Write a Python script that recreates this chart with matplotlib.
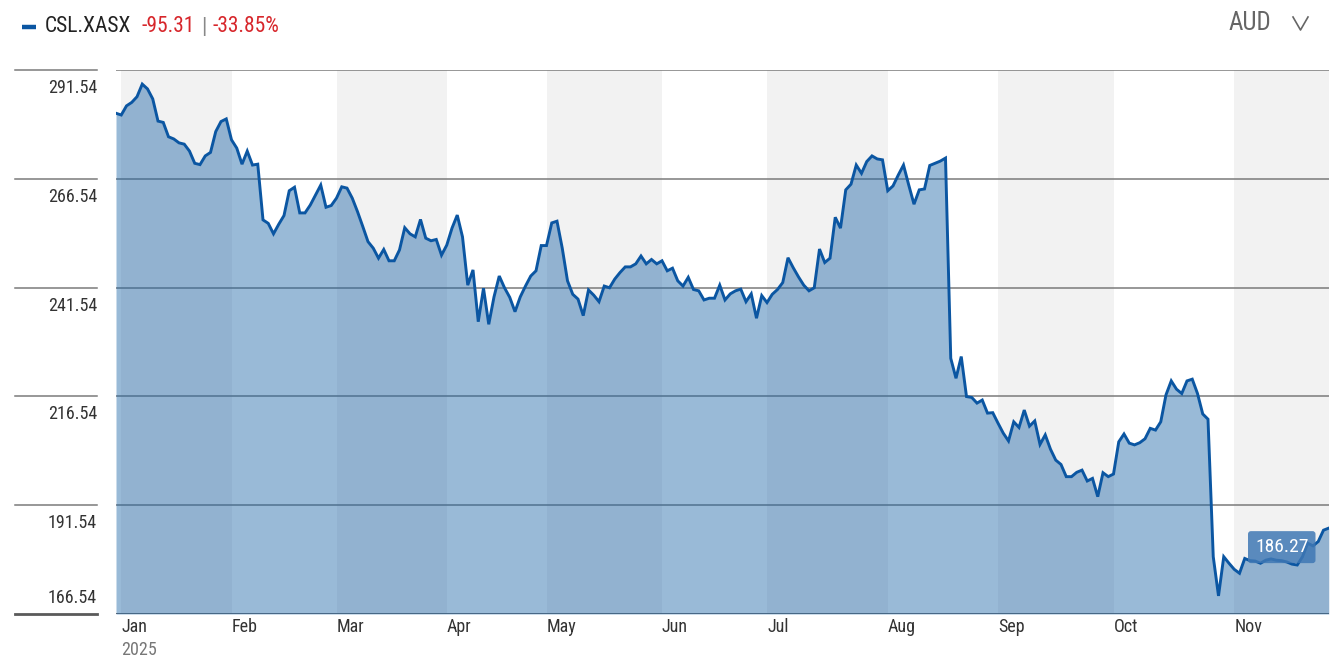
import numpy as np
import pandas as pd
import matplotlib
matplotlib.use("Agg")
import matplotlib.pyplot as plt
import matplotlib.transforms as mtransforms
from matplotlib import font_manager as fm
from matplotlib.lines import Line2D

# ---------------- data ----------------
ticker = "CSL.XASX"
change_abs = "-95.31"
change_pct = "-33.85%"
currency = "AUD"
year_label = "2025"
last_label = "186.27"

holidays = ["2025-01-01", "2025-01-27", "2025-04-18", "2025-04-21",
            "2025-04-25", "2025-06-09"]
dates = pd.bdate_range("2024-12-31", "2025-11-27", freq="C", holidays=holidays)

prices = [
    281.6, 281.2, 283.3, 284.1, 285.4, 288.3, 287.2, 284.9, 279.8, 279.5,
    276.2, 275.7, 274.8, 274.5, 272.9, 270.1, 269.8, 271.8, 272.6, 277.4,
    279.7, 280.3, 275.5, 273.6, 269.9, 272.9, 269.7, 269.9, 257.1, 256.3,
    253.9, 256.1, 258.1, 263.8, 264.6, 258.7, 258.7, 260.5, 262.8, 265.1,
    260.0, 260.4, 262.1, 264.7, 264.4, 262.1, 259.0, 255.6, 252.1, 250.6,
    248.3, 250.3, 247.7, 247.7, 250.2, 255.3, 253.9, 253.2, 257.2, 252.9,
    252.3, 252.6, 249.0, 251.3, 255.2, 258.2, 253.2, 242.1, 245.6, 233.7,
    241.4, 233.1, 239.4, 244.2, 241.5, 239.3, 236.0, 239.4, 241.9, 244.2,
    245.4, 251.2, 251.2, 256.4, 256.8, 250.6, 243.1, 240.0, 238.9, 235.1,
    241.0, 239.8, 238.3, 241.9, 241.5, 243.5, 245.0, 246.3, 246.3, 247.0,
    248.8, 247.0, 248.0, 247.0, 247.7, 245.4, 246.0, 243.1, 241.9, 243.9,
    241.1, 240.8, 238.7, 239.1, 239.1, 242.1, 238.7, 240.1, 240.8, 241.2,
    238.3, 240.1, 234.5, 239.7, 238.1, 240.0, 241.1, 242.7, 248.4, 246.1,
    244.0, 242.1, 240.8, 241.5, 250.4, 247.3, 248.3, 257.7, 255.2, 264.0,
    265.3, 269.7, 267.8, 270.5, 271.8, 271.1, 270.9, 263.8, 264.9, 267.4,
    269.7, 265.1, 260.7, 264.0, 264.2, 269.6, 270.1, 270.6, 271.3, 225.3,
    220.7, 225.7, 216.5, 216.3, 215.0, 215.7, 212.7, 212.8, 210.4, 208.1,
    206.3, 210.7, 209.4, 213.4, 209.7, 210.9, 205.5, 207.7, 204.4, 201.9,
    200.9, 198.1, 198.1, 199.1, 199.6, 197.1, 197.7, 193.5, 199.0, 198.1,
    198.7, 206.1, 207.9, 205.8, 205.4, 205.9, 206.8, 209.2, 208.8, 210.7,
    216.9, 220.1, 218.2, 217.2, 220.1, 220.5, 217.2, 212.5, 211.3, 179.7,
    170.7, 179.7, 178.2, 176.8, 175.9, 179.3, 178.8, 178.7, 178.2, 178.9,
    179.2, 178.9, 178.8, 178.5, 178.0, 177.8, 179.7, 182.8, 182.2, 183.2,
    185.8, 186.27,
]

y_ticks = [166.54, 191.54, 216.54, 241.54, 266.54, 291.54]
month_labels = ["Jan", "Feb", "Mar", "Apr", "May", "Jun", "Jul", "Aug",
                "Sep", "Oct", "Nov"]
month_numbers = list(range(1, 12))

# ---------------- style ----------------
names = {f.name for f in fm.fontManager.ttflist}
FONT = "DejaVu Sans"
for cand in ["Liberation Sans Narrow", "Roboto Condensed", "Open Sans Condensed",
             "Roboto", "Liberation Sans"]:
    if cand in names:
        FONT = cand
        break
plt.rcParams["font.family"] = [FONT, "DejaVu Sans"]

LINE_C = "#0b56a2"
FILL_C = "#1e66a8"
BAND_C = "#f2f2f2"
GRID_C = "#7a7a7a"
TXT_C = "#333333"
RED_C = "#d7262b"

W, H = 1339, 667
fig = plt.figure(figsize=(W / 100, H / 100), dpi=100)
L, R, T, B = 116, 1328.75, 70, 614
ax = fig.add_axes([L / W, (H - B) / H, (R - L) / W, (B - T) / H])

idx = np.arange(len(dates))
n = min(len(idx), len(prices))
x = idx[:n]
y = np.array(prices[:n])

month_starts = []
for m in month_numbers:
    mask = (dates.year == 2025) & (dates.month == m)
    month_starts.append(int(np.argmax(mask)))

xmax = x[-1]
ax.set_xlim(0, xmax)
ax.set_ylim(y_ticks[0], y_ticks[-1])

edges = month_starts + [xmax]
for k in range(len(month_starts)):
    if k % 2 == 0:
        ax.axvspan(edges[k], edges[k + 1], color=BAND_C, lw=0, zorder=0)

tr = mtransforms.blended_transform_factory(ax.transAxes, ax.transData)
for i, v in enumerate(y_ticks):
    lw = 2.0 if i == 0 else 1.1
    col = "#5a5a5a" if i == 0 else GRID_C
    ax.axhline(v, color=col, lw=lw, zorder=1)
    ax.plot([(15 - L) / (R - L), (97 - L) / (R - L)], [v, v], transform=tr,
            color=col, lw=lw, clip_on=False, zorder=1)
    dy = 16 if i == 0 else -18
    ttr = mtransforms.offset_copy(tr, fig=fig, x=0, y=dy, units="dots")
    ax.text((97 - L) / (R - L), v, f"{v:.2f}", transform=ttr, ha="right",
            va="center", fontsize=13, color=TXT_C)

ax.fill_between(x, y, y_ticks[0], color=FILL_C, alpha=0.45, lw=0, zorder=2)
ax.plot(x, y, color=LINE_C, lw=2.1, zorder=4, solid_joinstyle="miter")

xtr = mtransforms.blended_transform_factory(ax.transData, ax.transAxes)
for ms, lab in zip(month_starts, month_labels):
    t1 = mtransforms.offset_copy(xtr, fig=fig, x=0, y=-13, units="dots")
    ax.text(ms, 0, lab, transform=t1, ha="left", va="center", fontsize=13,
            color=TXT_C)
t2 = mtransforms.offset_copy(xtr, fig=fig, x=0, y=-36, units="dots")
ax.text(month_starts[0], 0, year_label, transform=t2, ha="left", va="center",
        fontsize=13, color="#777777")

ax.annotate(last_label, xy=(x[-1], y[-1]), xytext=(-47, -19),
            textcoords="offset pixels", ha="center", va="center",
            color="white", fontsize=14, zorder=6,
            bbox=dict(boxstyle="round,pad=0.36,rounding_size=0.15",
                      fc="#3f78b4", ec="none", alpha=0.85))

for s in ax.spines.values():
    s.set_visible(False)
ax.set_xticks([])
ax.set_yticks([])


def fx(px):
    return px / W


def fy(py):
    return 1 - py / H


fig.add_artist(Line2D([fx(22), fx(36)], [fy(27), fy(27)], color=LINE_C, lw=3.2,
                      solid_capstyle="butt"))

# header pieces chained by measured width
renderer = fig.canvas.get_renderer()
pieces = [(ticker, "#222222", 0), (change_abs, RED_C, 10), ("|", "#888888", 6),
          (change_pct, RED_C, 6)]
cur = 45
for txt, col, gap in pieces:
    cur += gap
    t = fig.text(fx(cur), fy(27), txt, ha="left", va="center", fontsize=15.5,
                 color=col)
    bb = t.get_window_extent(renderer=renderer)
    cur += bb.width

fig.text(fx(1271), fy(23), currency, ha="right", va="center", fontsize=18,
         color="#666666")
fig.add_artist(Line2D([fx(1293), fx(1300.5), fx(1308)], [fy(17), fy(30), fy(17)],
                      color="#666666", lw=1.2))

fig.savefig("out.png", dpi=100)
